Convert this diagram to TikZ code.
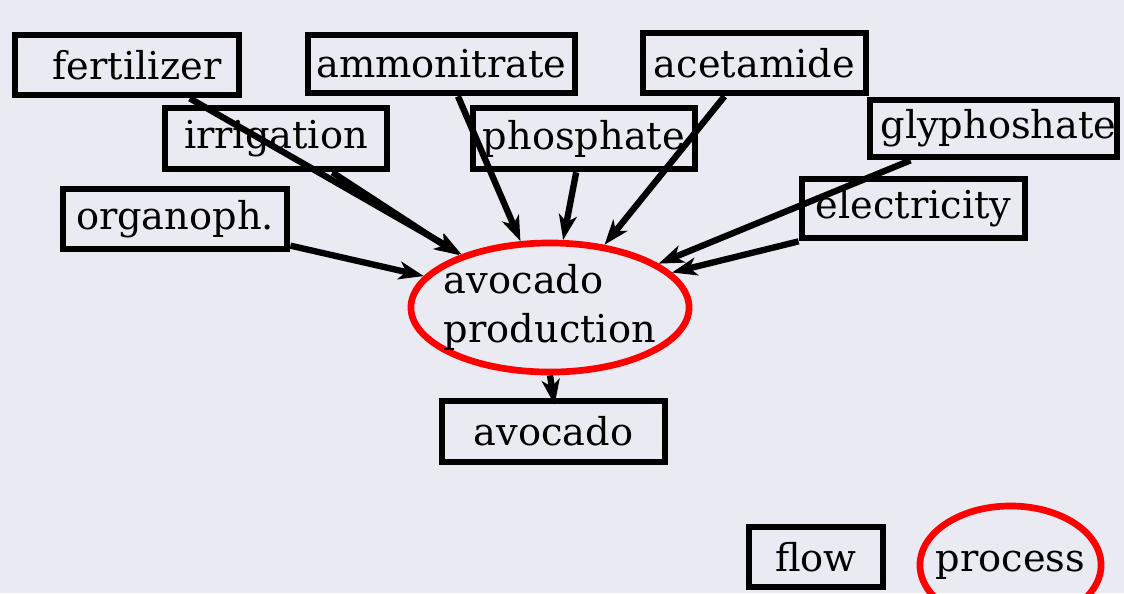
\documentclass[tikz,border=0pt]{standalone}
\usepackage{fontspec}
\setmainfont{DejaVu Serif}
\usepackage{tikz}
\usetikzlibrary{
  shapes.geometric,
  arrows.meta,
  positioning,
  calc
}
\usepackage{xcolor}
\definecolor{bggray}{HTML}{EAEAF2}
\definecolor{procred}{HTML}{FF0000}
\tikzset{
  flowbox/.style={
    rectangle, draw=black, line width=1.9pt,
    minimum width=#1, minimum height=0.6cm, inner sep=0pt,
    font=\fontsize{10.9}{13}\selectfont, text centered
  },
  flowbox/.default=2.23cm,
  procnode/.style={
    ellipse, draw=procred, line width=1.9pt, inner xsep=-0.12cm, inner ysep=-0.04cm,
    font=\fontsize{10.9}{13.7}\selectfont, align=left
  },
  arrow/.style={-{Stealth[length=0.25cm, width=0.18cm, inset=0.07cm]}, line width=1.8pt},
}

\begin{document}
\begin{tikzpicture}[x=0.01cm, y=-0.01cm]

\fill[bggray] (0,0) rectangle (1124,593);
\useasboundingbox (0,0) rectangle (1124,593);

% Inputs
\node[flowbox=2.24cm] (fertilizer) at (127,65) {\hspace{0.2cm}fertilizer};
\node[flowbox=2.67cm, minimum height=0.58cm] (ammonitrate) at (441.5,64) {ammonitrate};
\node[flowbox] (acetamide) at (754.5,63) {acetamide\hspace{0.15cm}};
\node[flowbox=2.22cm, minimum height=0.61cm] (irrigation) at (276,138.5) {irrigation};
\node[flowbox=2.22cm, minimum height=0.61cm] (phosphate) at (584,138.5) {phosphate\hspace{0.1cm}};
\node[flowbox=2.47cm, minimum height=0.57cm] (glyphoshate) at (993.5,128.5) {\hspace{0.1cm}glyphoshate};
\node[flowbox=2.24cm] (organoph) at (175,219) {organoph.};
\node[flowbox, minimum height=0.59cm] (electricity) at (913.5,208.5) {electricity};

% Process and output
\node[procnode, minimum width=2.78cm, minimum height=1.29cm] (prod) at (550,307.5) {avocado\\production};
\node[flowbox, minimum height=0.61cm] (avocado) at (553.5,431.5) {avocado};

% Arrows
\draw[arrow] (fertilizer.-28) -- (prod.149);
\draw[arrow] (irrigation.-31) -- (prod.150);
\draw[arrow] (organoph.-13) -- (prod.166);
\draw[arrow] (ammonitrate.-63) -- (prod.114);
\draw[arrow] (phosphate.-103) -- (prod.79);
\draw[arrow] (acetamide.-132) -- (prod.49);
\draw[arrow] (glyphoshate.-159) -- (prod.22);
\draw[arrow] (electricity.south west) -- (prod.16);
\draw[arrow, shorten >=-0.07cm] (prod.south) -- (avocado.north);

% Legend
\node[flowbox=1.34cm] (legflow) at (816,557) {flow};
\node[procnode, inner xsep=-0.12cm, minimum width=1.81cm, minimum height=1.18cm] (legproc) at (1010.5,565) {process};

\end{tikzpicture}
\end{document}
